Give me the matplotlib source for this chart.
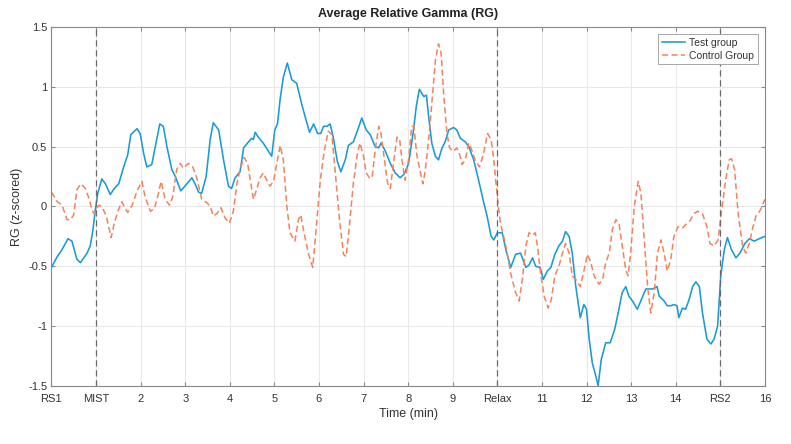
import numpy as np
import matplotlib
matplotlib.use("Agg")
import matplotlib.pyplot as plt

# Data (time in minutes, RG z-scored)
test_t = [0.0, 0.13, 0.24, 0.37, 0.46, 0.57, 0.65, 0.8, 0.87, 0.93, 0.98, 1.04, 1.13, 1.21, 1.32,
          1.41, 1.51, 1.62, 1.71, 1.78, 1.92, 1.99, 2.07, 2.14, 2.25, 2.33, 2.43, 2.51, 2.59,
          2.70, 2.78, 2.90, 3.04, 3.15, 3.22, 3.30, 3.37, 3.47, 3.56, 3.63, 3.75, 3.86, 3.97,
          4.04, 4.12, 4.23, 4.31, 4.42, 4.49, 4.53, 4.57, 4.64, 4.75, 4.87, 4.94, 5.01, 5.07,
          5.13, 5.2, 5.29, 5.39, 5.5, 5.61, 5.69, 5.79, 5.88, 5.97, 6.04, 6.1, 6.18, 6.25,
          6.32, 6.41, 6.49, 6.59, 6.66, 6.77, 6.86, 6.96, 7.06, 7.15, 7.26, 7.34, 7.39, 7.48,
          7.6, 7.71, 7.82, 7.91, 8.01, 8.11, 8.18, 8.25, 8.35, 8.41, 8.46, 8.53, 8.61, 8.68,
          8.76, 8.83, 8.91, 9.02, 9.09, 9.17, 9.28, 9.36, 9.47, 9.58, 9.69, 9.77, 9.86, 9.92,
          10.0, 10.11, 10.19, 10.3, 10.41, 10.52, 10.64, 10.71, 10.79, 10.86, 10.96, 11.03,
          11.12, 11.2, 11.29, 11.38, 11.46, 11.53, 11.61, 11.68, 11.76, 11.86, 11.94, 12.0,
          12.06, 12.13, 12.21, 12.26, 12.33, 12.43, 12.53, 12.63, 12.71, 12.8, 12.88, 12.95,
          13.03, 13.14, 13.25, 13.33, 13.48, 13.58, 13.63, 13.74, 13.81, 13.89, 13.96, 14.03,
          14.07, 14.15, 14.22, 14.3, 14.38, 14.45, 14.53, 14.6, 14.7, 14.79, 14.86, 14.94,
          15.01, 15.09, 15.16, 15.25, 15.35, 15.44, 15.55, 15.65, 15.76, 15.87, 16.0]
test_rg = [-0.51, -0.42, -0.36, -0.27, -0.29, -0.44, -0.47, -0.39, -0.33, -0.2, -0.04, 0.11, 0.23, 0.19, 0.10,
           0.15, 0.19, 0.33, 0.43, 0.60, 0.65, 0.61, 0.44, 0.33, 0.35, 0.50, 0.69, 0.67, 0.50,
           0.31, 0.25, 0.13, 0.19, 0.24, 0.19, 0.12, 0.11, 0.25, 0.56, 0.70, 0.64, 0.39, 0.17,
           0.15, 0.24, 0.29, 0.49, 0.54, 0.57, 0.56, 0.62, 0.58, 0.53, 0.46, 0.42, 0.64, 0.69,
           0.90, 1.08, 1.20, 1.06, 1.03, 0.86, 0.75, 0.62, 0.69, 0.61, 0.61, 0.67, 0.67, 0.69,
           0.58, 0.38, 0.29, 0.39, 0.51, 0.54, 0.63, 0.74, 0.64, 0.60, 0.50, 0.49, 0.53, 0.47,
           0.36, 0.28, 0.24, 0.27, 0.36, 0.61, 0.83, 0.98, 0.92, 0.93, 0.75, 0.53, 0.42, 0.39,
           0.49, 0.54, 0.64, 0.66, 0.64, 0.57, 0.54, 0.50, 0.39, 0.22, 0.04, -0.08, -0.25, -0.28,
           -0.22, -0.22, -0.36, -0.51, -0.40, -0.39, -0.51, -0.49, -0.43, -0.50, -0.51, -0.61,
           -0.54, -0.51, -0.40, -0.33, -0.29, -0.21, -0.25, -0.39, -0.67, -0.93, -0.82, -0.86,
           -1.11, -1.31, -1.42, -1.50, -1.28, -1.14, -1.14, -1.03, -0.89, -0.72, -0.67, -0.75,
           -0.79, -0.86, -0.76, -0.69, -0.69, -0.67, -0.75, -0.79, -0.83, -0.83, -0.82, -0.83,
           -0.93, -0.85, -0.86, -0.78, -0.67, -0.63, -0.67, -0.89, -1.11, -1.15, -1.11, -1.00,
           -0.58, -0.36, -0.26, -0.36, -0.43, -0.39, -0.31, -0.27, -0.29, -0.27, -0.25]

ctrl_t = [0.0, 0.13, 0.24, 0.35, 0.43, 0.5, 0.57, 0.66, 0.76, 0.84, 0.91, 0.96, 1.06, 1.13,
          1.23, 1.34, 1.41, 1.49, 1.58, 1.63, 1.71, 1.81, 1.92, 2.03, 2.1, 2.22, 2.31, 2.4,
          2.46, 2.55, 2.65, 2.72, 2.81, 2.89, 2.96, 3.07, 3.17, 3.26, 3.37, 3.49, 3.56, 3.63,
          3.71, 3.8, 3.9, 3.99, 4.08, 4.16, 4.23, 4.32, 4.4, 4.46, 4.53, 4.6, 4.68, 4.75,
          4.83, 4.9, 4.98, 5.07, 5.13, 5.2, 5.28, 5.35, 5.46, 5.54, 5.59, 5.65, 5.76, 5.86,
          5.93, 6.03, 6.12, 6.21, 6.29, 6.36, 6.46, 6.55, 6.61, 6.68, 6.77, 6.86, 6.92, 7.0,
          7.06, 7.13, 7.19, 7.26, 7.34, 7.39, 7.45, 7.54, 7.6, 7.67, 7.75, 7.81, 7.86, 7.93,
          8.01, 8.08, 8.13, 8.19, 8.26, 8.33, 8.38, 8.46, 8.53, 8.61, 8.68, 8.74, 8.8, 8.87,
          8.93, 9.01, 9.09, 9.15, 9.21, 9.28, 9.36, 9.41, 9.51, 9.6, 9.69, 9.78, 9.86, 9.92,
          10.0, 10.07, 10.19, 10.3, 10.41, 10.49, 10.56, 10.64, 10.71, 10.79, 10.85, 10.9,
          10.97, 11.05, 11.14, 11.21, 11.29, 11.38, 11.46, 11.53, 11.61, 11.68, 11.76, 11.86,
          11.93, 12.02, 12.09, 12.17, 12.28, 12.36, 12.43, 12.51, 12.58, 12.66, 12.73, 12.8,
          12.88, 12.93, 12.99, 13.07, 13.16, 13.22, 13.29, 13.37, 13.44, 13.52, 13.59, 13.67,
          13.74, 13.81, 13.89, 13.96, 14.05, 14.15, 14.23, 14.32, 14.41, 14.49, 14.6, 14.7,
          14.77, 14.86, 14.95, 15.03, 15.12, 15.2, 15.25, 15.32, 15.4, 15.5, 15.57, 15.65,
          15.72, 15.8, 15.9, 16.0]
ctrl_rg = [0.12, 0.04, 0.01, -0.11, -0.11, -0.07, 0.14, 0.19, 0.15, 0.07, -0.03, -0.06, 0.01, 0.0,
           -0.08, -0.26, -0.14, -0.04, 0.04, 0.0, -0.05, 0.01, 0.13, 0.21, 0.08, -0.04, -0.02, 0.11,
           0.21, 0.06, 0.01, 0.08, 0.31, 0.36, 0.32, 0.36, 0.33, 0.24, 0.06, 0.03, 0.0, -0.08,
           -0.06, -0.01, -0.10, -0.14, -0.04, 0.19, 0.31, 0.41, 0.36, 0.22, 0.06, 0.14, 0.24, 0.28,
           0.22, 0.17, 0.21, 0.39, 0.51, 0.39, 0.0, -0.22, -0.29, -0.11, -0.07, -0.19, -0.39, -0.51,
           -0.22, 0.22, 0.47, 0.63, 0.60, 0.31, -0.11, -0.40, -0.42, -0.17, 0.19, 0.44, 0.53, 0.42,
           0.28, 0.24, 0.24, 0.47, 0.67, 0.61, 0.44, 0.19, 0.15, 0.36, 0.58, 0.56, 0.39, 0.22,
           0.39, 0.67, 0.67, 0.44, 0.31, 0.19, 0.29, 0.56, 0.86, 1.22, 1.36, 1.28, 0.92, 0.61,
           0.49, 0.46, 0.49, 0.44, 0.35, 0.39, 0.53, 0.49, 0.38, 0.33, 0.44, 0.61, 0.56, 0.39,
           0.08, -0.14, -0.33, -0.56, -0.72, -0.79, -0.61, -0.33, -0.22, -0.24, -0.22, -0.33,
           -0.56, -0.75, -0.85, -0.78, -0.58, -0.50, -0.39, -0.31, -0.39, -0.58, -0.61, -0.67,
           -0.56, -0.40, -0.46, -0.58, -0.65, -0.61, -0.47, -0.39, -0.19, -0.11, -0.15, -0.33,
           -0.53, -0.58, -0.39, 0.0, 0.21, 0.11, -0.25, -0.67, -0.89, -0.72, -0.39, -0.28,
           -0.39, -0.54, -0.44, -0.25, -0.17, -0.18, -0.15, -0.12, -0.06, -0.04, -0.06, -0.17,
           -0.31, -0.33, -0.28, -0.03, 0.22, 0.39, 0.40, 0.31, -0.06, -0.33, -0.39, -0.31,
           -0.19, -0.08, -0.03, 0.06]

xtick_pos = list(range(17))
xtick_labels = ["RS1", "MIST", "2", "3", "4", "5", "6", "7", "8", "9", "Relax",
                "11", "12", "13", "14", "RS2", "16"]
phase_marks = [1, 10, 15]

plt.rcParams['font.family'] = ['Liberation Sans', 'DejaVu Sans']

fig = plt.figure(figsize=(7.91, 4.44), dpi=100)
ax = fig.add_axes([0.065, 0.131, 0.902, 0.808])

ax.plot(test_t, test_rg, color="#1a9ad6", linewidth=1.15, label="Test group")
ax.plot(ctrl_t, ctrl_rg, color="#f4825c", linewidth=1.1, linestyle=(0, (4, 2.2)),
        label="Control Group")

for xm in phase_marks:
    ax.axvline(xm, color="#6a6a6a", linestyle=(0, (5, 3)), linewidth=0.9)

ax.set_xlim(0, 16)
ax.set_ylim(-1.5, 1.5)
ax.set_xticks(xtick_pos)
ax.set_xticklabels(xtick_labels)
ax.set_yticks([-1.5, -1, -0.5, 0, 0.5, 1, 1.5])
ax.set_yticklabels(["-1.5", "-1", "-0.5", "0", "0.5", "1", "1.5"])
ax.grid(True, color="#e8e8e8", linewidth=0.7)
ax.set_axisbelow(True)
ax.tick_params(direction="in", length=3, labelsize=8, colors="#333333",
               top=True, right=True)
ax.tick_params(axis="x", pad=6)
ax.tick_params(axis="y", pad=3)
ax.tick_params(color="#888888")
for s in ax.spines.values():
    s.set_color("#888888")
    s.set_linewidth(0.8)

ax.set_xlabel("Time (min)", fontsize=9, color="#333333", labelpad=3)
ax.set_ylabel("RG (z-scored)", fontsize=9, color="#333333", labelpad=4)
ax.set_title("Average Relative Gamma (RG)", fontsize=9, fontweight="bold", pad=7,
             color="#222222")

leg = ax.legend(loc="upper right", fontsize=7.5, fancybox=False, framealpha=1,
                edgecolor="#999999", handlelength=2.2, borderpad=0.35, labelspacing=0.25,
                handletextpad=0.4, borderaxespad=0.7)
leg.get_frame().set_linewidth(0.6)
for txt in leg.get_texts():
    txt.set_color("#333333")

fig.savefig("out.png", dpi=100)
